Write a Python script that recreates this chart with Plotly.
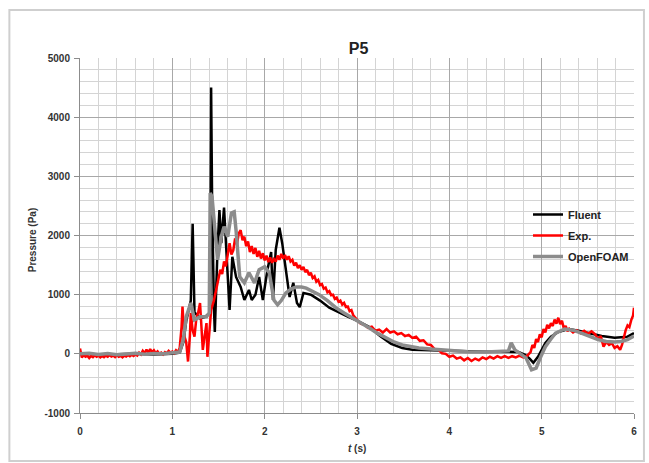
import plotly.graph_objects as go

# ---------------- data ----------------
fluent_t = [0, 0.2, 0.4, 0.6, 0.8, 1.0, 1.08, 1.12, 1.15, 1.18, 1.2, 1.22, 1.24, 1.27, 1.3, 1.35,
            1.41, 1.42, 1.43, 1.45, 1.46, 1.49, 1.51, 1.53, 1.56, 1.59, 1.62, 1.65, 1.69, 1.74,
            1.78, 1.83, 1.86, 1.9, 1.94, 1.98, 2.03, 2.07, 2.09, 2.12, 2.16, 2.19, 2.23, 2.27,
            2.31, 2.35, 2.38, 2.42, 2.5, 2.6, 2.7, 2.8, 2.9, 3.0, 3.13, 3.25, 3.37, 3.49, 3.6,
            3.8, 4.0, 4.2, 4.4, 4.6, 4.75, 4.82, 4.87, 4.91, 4.96, 5.04, 5.1, 5.18, 5.29, 5.4,
            5.5, 5.65, 5.79, 5.93, 6.0]
fluent_p = [0, -10, -5, 0, -10, 0, 20, 200, 550, 800, 900, 2200, 700, 650, 600, 620,
            700, 4500, 2700, 800, 370, 1800, 2430, 1870, 2470, 1600, 740, 1640, 1300, 1130,
            910, 1080, 910, 1000, 1300, 910, 1420, 1720, 910, 1760, 2130, 1870, 1420, 960,
            1200, 860, 790, 1030, 1000, 900, 780, 700, 630, 560, 456, 300, 170, 100, 68,
            60, 50, 40, 35, 35, 30, -17, -80, -150, -50, 185, 290, 370, 420, 390,
            350, 300, 270, 290, 350]

exp_t = [0, 0.02, 0.04, 0.06, 0.08, 0.1, 0.12, 0.14, 0.16, 0.18,
         0.2, 0.22, 0.24, 0.26, 0.28, 0.3, 0.32, 0.34, 0.36, 0.38,
         0.4, 0.42, 0.44, 0.46, 0.48, 0.5, 0.52, 0.54, 0.56, 0.58,
         0.6, 0.62, 0.64, 0.66, 0.68, 0.7, 0.72, 0.74, 0.76, 0.78,
         0.8, 0.82, 0.84, 0.86, 0.88, 0.9, 0.92, 0.94, 0.96, 0.98,
         1.0, 1.02, 1.04, 1.06,
         1.08, 1.1, 1.11, 1.13, 1.15, 1.17, 1.19, 1.2, 1.22, 1.24, 1.26, 1.28, 1.3, 1.32, 1.33,
         1.35, 1.37, 1.38, 1.4, 1.42, 1.45, 1.48,
         1.5, 1.52, 1.54, 1.56, 1.58, 1.6, 1.62, 1.64, 1.66, 1.68,
         1.7, 1.72, 1.74, 1.76, 1.78, 1.8, 1.82, 1.84, 1.86, 1.88,
         1.9, 1.92, 1.94, 1.96, 1.98, 2.0, 2.02, 2.04, 2.06, 2.08,
         2.1, 2.12, 2.14, 2.16, 2.18, 2.2, 2.22, 2.24, 2.26, 2.28,
         2.3, 2.32, 2.34, 2.36, 2.38, 2.4, 2.42, 2.44, 2.46, 2.48,
         2.5, 2.52, 2.54, 2.56, 2.58, 2.6, 2.62, 2.64, 2.66, 2.68,
         2.7, 2.72, 2.74, 2.76, 2.78, 2.8, 2.82, 2.84, 2.86, 2.88,
         2.9, 2.92, 2.94, 2.96, 2.98,
         3.0, 3.04, 3.08, 3.12, 3.16, 3.2, 3.24, 3.28, 3.32, 3.36,
         3.4, 3.44, 3.48, 3.52, 3.56, 3.6, 3.64, 3.68, 3.72, 3.76,
         3.8, 3.84, 3.88, 3.92, 3.96, 4.0, 4.04, 4.08, 4.12, 4.16,
         4.2, 4.24, 4.28, 4.32, 4.36, 4.4, 4.44, 4.48, 4.52, 4.56,
         4.6, 4.64, 4.68, 4.72, 4.76, 4.8, 4.84,
         4.88, 4.9, 4.92, 4.94, 4.96, 4.98, 5.0, 5.02, 5.04, 5.06,
         5.08, 5.1, 5.12, 5.14, 5.16, 5.18, 5.2, 5.22, 5.24, 5.26,
         5.28, 5.3, 5.34, 5.38, 5.42, 5.46, 5.5, 5.54, 5.58, 5.61,
         5.64, 5.67, 5.7, 5.73, 5.76, 5.79, 5.82, 5.85, 5.87, 5.89,
         5.91, 5.93, 5.95, 5.97, 5.99, 6.0]
exp_p = [90, -60, -20, -50, -30, -70, -35, -55, -25, -50,
         -30, -60, -35, -55, -30, -50, -20, -45, -30, -55,
         -25, -50, -35, -60, -30, -45, -20, -40, -15, -35,
         -10, -30, 20, -10, 50, 10, 70, 20, 80, 30,
         60, 10, 40, 0, 20, -10, 30, 10, 50, 20,
         40, 10, 60, 30,
         100, 456, 800, 300, 200, -130, 300, 690, 400, 290, 600, 700, 860, 300, 68,
         300, 520, -50, 400, 740, 900, 1130,
         1250, 1420, 1350, 1560, 1480, 1700, 1870, 1680, 1750, 1950,
         1850, 2040, 2090, 1920, 1980, 1820, 1900, 1720, 1820, 1690,
         1790, 1640, 1740, 1610, 1700, 1580, 1660, 1550, 1630, 1540,
         1600, 1560, 1660, 1590, 1690, 1610, 1670, 1590, 1650, 1560,
         1590, 1490, 1540, 1450, 1500, 1420, 1470, 1380, 1420, 1330,
         1370, 1280, 1310, 1220, 1250, 1160, 1180, 1100, 1120, 1040,
         1060, 990, 1000, 930, 950, 880, 900, 830, 860, 790,
         800, 720, 740, 650, 620,
         575, 510, 490, 440, 460, 390, 410, 360, 420, 360,
         380, 330, 350, 300, 320, 270, 290, 220, 230, 160,
         150, 80, 70, 10, 0, -50, -30, -80, -60, -110,
         -70, -120, -80, -110, -60, -90, -50, -80, -40, -70,
         -40, -70, -40, -60, -30, -60, -40,
         30, 150, 100, 250, 200, 330, 280, 420, 360, 490,
         430, 520, 470, 580, 510, 610, 500, 560, 430, 470,
         380, 420, 360, 400, 350, 390, 340, 380, 330, 250,
         300, 120, 200, 150, 180, 100, 130, 68, 150, 300,
         400, 480, 450, 570, 650, 780]

foam_t = [0, 0.1, 0.2, 0.3, 0.4, 0.5, 0.6, 0.7, 0.8, 0.9, 1.0, 1.08, 1.12, 1.15, 1.2, 1.24,
          1.3, 1.37, 1.4, 1.41, 1.43, 1.46, 1.49, 1.53, 1.56, 1.6, 1.64, 1.67, 1.69, 1.73,
          1.78, 1.83, 1.89, 1.94, 2.0, 2.05, 2.1, 2.14, 2.18, 2.23, 2.29, 2.34, 2.4, 2.45,
          2.52, 2.59, 2.68, 2.77, 2.86, 2.95, 3.04, 3.13, 3.22, 3.31, 3.4, 3.49, 3.58, 3.67,
          3.8, 4.02, 4.2, 4.4, 4.6, 4.64, 4.67, 4.71, 4.77, 4.83, 4.89, 4.94, 4.99, 5.04,
          5.1, 5.15, 5.25, 5.34, 5.43, 5.52, 5.61, 5.7, 5.79, 5.86, 5.93, 6.0]
foam_p = [0, 10, -10, 5, -15, 0, 10, -5, 5, 0, 10, 30, 250, 625, 860, 575,
          625, 625, 690, 2720, 2650, 2100, 1590, 1980, 2150, 1980, 2380, 2400, 2090, 1300,
          1200, 1370, 1200, 1420, 1470, 1370, 910, 830, 900, 1030, 1100, 1130, 1130, 1110,
          1060, 1000, 900, 780, 690, 610, 520, 440, 350, 270, 200, 150, 120, 100,
          80, 50, 35, 30, 40, 50, 185, 68, 0, -68, -270, -240, -50, 120,
          250, 350, 420, 400, 350, 300, 240, 210, 200, 210, 240, 300]

x_ticks = [0, 1, 2, 3, 4, 5, 6]
y_ticks = [-1000, 0, 1000, 2000, 3000, 4000, 5000]

FONT = "Liberation Sans Narrow, Liberation Sans, Arial, sans-serif"

fig = go.Figure()
fig.add_trace(go.Scatter(x=fluent_t, y=fluent_p, mode="lines", name="<b>Fluent</b>",
                         legendgroup="a", line=dict(color="#000000", width=2.5)))
fig.add_trace(go.Scatter(x=exp_t, y=exp_p, mode="lines", name="<b>Exp.</b>",
                         legendgroup="b", line=dict(color="#ff0000", width=2.5)))
fig.add_trace(go.Scatter(x=foam_t, y=foam_p, mode="lines", name="<b>OpenFOAM</b>",
                         legendgroup="c", line=dict(color="#8c8c8c", width=3.5)))

axis_common = dict(
    showline=True, linecolor="#8c8c8c", linewidth=1,
    ticks="outside", ticklen=5, tickcolor="#8c8c8c",
    gridcolor="#a8a8a8", gridwidth=1,
    zeroline=False,
    tickfont=dict(family=FONT, size=10, color="#333333"),
)

fig.update_xaxes(range=[0, 6], tickvals=x_ticks, ticktext=[f"<b>{v}</b>" for v in x_ticks],
                 minor=dict(dtick=0.2, showgrid=True, gridcolor="#d4d4d4", gridwidth=1),
                 ticklabelstandoff=4, **axis_common)
fig.update_yaxes(range=[-1000, 5000], tickvals=y_ticks, ticktext=[f"<b>{v}</b>" for v in y_ticks],
                 minor=dict(dtick=200, showgrid=True, gridcolor="#d4d4d4", gridwidth=1),
                 ticklabelstandoff=2, **axis_common)

fig.update_layout(
    width=649, height=463, autosize=False,
    margin=dict(l=80, r=12, t=58, b=50),
    paper_bgcolor="white", plot_bgcolor="white",
    title=dict(text="<b>P5</b>", x=(80 + 637) / 2 / 649, xanchor="center",
               y=1 - 48 / 463, yanchor="middle", yref="container",
               font=dict(family=FONT, size=16, color="#222222")),
    showlegend=True,
    legend=dict(x=1.0, y=0.6, xanchor="right", yanchor="top",
                bgcolor="rgba(0,0,0,0)", font=dict(family=FONT, size=11, color="#222222"),
                itemwidth=30, tracegroupgap=2),
    annotations=[
        dict(text="<b>Pressure (Pa)</b>", xref="paper", yref="paper",
             x=(32 - 80) / 557, y=(413 - 240) / 355, textangle=-90, showarrow=False,
             xanchor="center", yanchor="middle",
             font=dict(family=FONT, size=10, color="#333333")),
        dict(text="<b><i>t</i> (s)</b>", xref="paper", yref="paper",
             x=(358 - 80) / 557, y=(413 - 448) / 355, showarrow=False,
             xanchor="center", yanchor="middle",
             font=dict(family=FONT, size=10, color="#333333")),
    ],
    shapes=[dict(type="rect", xref="paper", yref="paper",
                 x0=(9 - 80) / 557, x1=(647 - 80) / 557,
                 y0=(413 - 461) / 355, y1=(413 - 10) / 355,
                 line=dict(color="#cfcfcf", width=2), fillcolor="rgba(0,0,0,0)", layer="below")],
)

fig.write_html(
    "out.html",
    config={"responsive": False, "displayModeBar": False},
    post_script="document.body.style.margin='0';document.body.style.overflow='hidden';",
)
